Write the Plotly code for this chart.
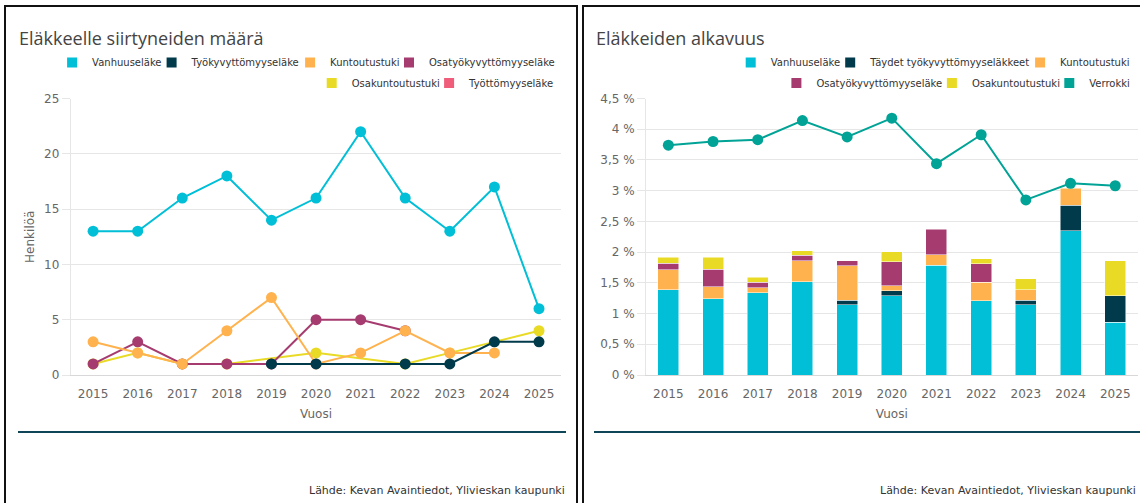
import plotly.graph_objects as go

# ---------------- data ----------------
years = ["2015", "2016", "2017", "2018", "2019", "2020", "2021", "2022", "2023", "2024", "2025"]

# Left chart: number of persons retiring
vanhuus_n = [13, 13, 16, 18, 14, 16, 22, 16, 13, 17, 6]
tyokyv_n = [None, None, None, None, 1, 1, None, 1, 1, 3, 3]
kunto_n = [3, 2, 1, 4, 7, 1, 2, 4, 2, 2, None]
osatyo_n = [1, 3, 1, 1, 1, 5, 5, 4, None, None, None]
osakunto_n = [1, 2, 1, 1, None, 2, None, 1, 2, None, 4]
tyotto_n = [None] * 11

# Right chart: pension incidence (%)
vanhuus_p = [1.39, 1.245, 1.34, 1.52, 1.14, 1.29, 1.79, 1.21, 1.14, 2.35, 0.86]
taydet_p = [None, None, None, None, 0.08, 0.08, None, None, 0.08, 0.41, 0.43]
kunto_p = [0.32, 0.195, 0.08, 0.34, 0.56, 0.08, 0.17, 0.30, 0.17, 0.28, None]
osatyo_p = [0.11, 0.28, 0.09, 0.09, 0.08, 0.39, 0.41, 0.30, None, None, None]
osakunto_p = [0.10, 0.20, 0.08, 0.07, None, 0.17, None, 0.08, 0.18, None, 0.57]
verrokki_p = [3.74, 3.80, 3.83, 4.14, 3.875, 4.18, 3.44, 3.91, 2.85, 3.12, 3.08]

y_left_ticks = [0, 5, 10, 15, 20, 25]
y_right_ticks = [0, 0.5, 1, 1.5, 2, 2.5, 3, 3.5, 4, 4.5]
y_right_labels = ["0 %", "0,5 %", "1 %", "1,5 %", "2 %", "2,5 %", "3 %", "3,5 %", "4 %", "4,5 %"]

# ---------------- style ----------------
W, H = 1140, 503
FONT = "DejaVu Sans"
C_CYAN = "#00bfd6"
C_NAVY = "#003a4b"
C_ORANGE = "#ffb24d"
C_PURPLE = "#a63b6f"
C_YELLOW = "#e8da25"
C_PINK = "#ef5d7a"
C_TEAL = "#00a396"
GRID = "#e6e6e6"


def px(x):
    return x / W


def py(y):
    return 1 - y / H


fig = go.Figure()

# ---- left chart lines (drawn in reverse so first series is on top) ----
left_series = [
    ("Vanhuuseläke", vanhuus_n, C_CYAN),
    ("Työkyvyttömyyseläke", tyokyv_n, C_NAVY),
    ("Kuntoutustuki", kunto_n, C_ORANGE),
    ("Osatyökyvyttömyyseläke", osatyo_n, C_PURPLE),
    ("Osakuntoutustuki", osakunto_n, C_YELLOW),
    ("Työttömyyseläke", tyotto_n, C_PINK),
]
for name, vals, col in reversed(left_series):
    fig.add_trace(go.Scatter(
        x=years, y=vals, name=name, mode="lines+markers",
        connectgaps=True, cliponaxis=False,
        line=dict(color=col, width=2),
        marker=dict(color=col, size=11),
        legendgroup="L_" + name, showlegend=False,
        xaxis="x", yaxis="y",
    ))

# ---- right chart stacked bars + comparison line ----
right_bars = [
    ("Vanhuuseläke", vanhuus_p, C_CYAN),
    ("Täydet työkyvyttömyyseläkkeet", taydet_p, C_NAVY),
    ("Kuntoutustuki", kunto_p, C_ORANGE),
    ("Osatyökyvyttömyyseläke", osatyo_p, C_PURPLE),
    ("Osakuntoutustuki", osakunto_p, C_YELLOW),
]
for name, vals, col in right_bars:
    fig.add_trace(go.Bar(
        x=years, y=vals, name=name,
        marker=dict(color=col, line=dict(color="white", width=0.5)),
        legendgroup="R_" + name, showlegend=False,
        xaxis="x2", yaxis="y2",
    ))
fig.add_trace(go.Scatter(
    x=years, y=verrokki_p, name="Verrokki", mode="lines+markers",
    cliponaxis=False,
    line=dict(color=C_TEAL, width=2),
    marker=dict(color=C_TEAL, size=11),
    legendgroup="R_Verrokki", showlegend=False,
    xaxis="x2", yaxis="y2",
))

# ---- legends: one entry each, square symbols ----
# (group, name, colour, legend-left px, row-centre px)
legend_entries = [
    ("L_", "Vanhuuseläke", C_CYAN, 52.1, 62.5),
    ("L_", "Työkyvyttömyyseläke", C_NAVY, 151.6, 62.5),
    ("L_", "Kuntoutustuki", C_ORANGE, 290.1, 62.5),
    ("L_", "Osatyökyvyttömyyseläke", C_PURPLE, 389.0, 62.5),
    ("L_", "Osakuntoutustuki", C_YELLOW, 311.7, 83.0),
    ("L_", "Työttömyyseläke", C_PINK, 429.1, 83.0),
    ("R_", "Vanhuuseläke", C_CYAN, 730.7, 62.5),
    ("R_", "Täydet työkyvyttömyyseläkkeet", C_NAVY, 830.2, 62.5),
    ("R_", "Kuntoutustuki", C_ORANGE, 1020.1, 62.5),
    ("R_", "Osatyökyvyttömyyseläke", C_PURPLE, 776.4, 83.0),
    ("R_", "Osakuntoutustuki", C_YELLOW, 931.9, 83.0),
    ("R_", "Verrokki", C_TEAL, 1049.3, 83.0),
]
legend_layouts = {}
for i, (grp, name, col, lx, ly) in enumerate(legend_entries):
    key = "legend" if i == 0 else f"legend{i + 1}"
    xa, ya = ("x", "y") if grp == "L_" else ("x2", "y2")
    fig.add_trace(go.Scatter(
        x=[None], y=[None], name=name, mode="markers",
        marker=dict(color=col, size=10, symbol="square"),
        legendgroup=grp + name, showlegend=True, legend=key,
        xaxis=xa, yaxis=ya,
    ))
    legend_layouts[key] = dict(
        x=px(lx), y=py(ly), xanchor="left", yanchor="middle",
        orientation="h", bgcolor="rgba(0,0,0,0)", borderwidth=0,
        font=dict(family=FONT, size=10, color="#333333"),
    )

axis_common = dict(
    tickfont=dict(family=FONT, size=12, color="#666666"),
    fixedrange=True,
)

fig.update_layout(
    width=W, height=H,
    margin=dict(l=0, r=0, t=0, b=0, autoexpand=False),
    paper_bgcolor="white", plot_bgcolor="white",
    barmode="stack", bargap=0.53,
    font=dict(family=FONT, color="#333333"),
    hovermode="closest",
    xaxis=dict(
        domain=[px(70.8), px(561.3)], anchor="y",
        type="category", categoryorder="array", categoryarray=years,
        range=[-0.5, 10.5], showgrid=False, zeroline=False,
        showline=True, linecolor="#d8d8d8", linewidth=1,
        ticks="outside", ticklen=8, tickcolor="rgba(0,0,0,0)",
        title=dict(text="Vuosi", font=dict(family=FONT, size=12, color="#666666"), standoff=9),
        **axis_common,
    ),
    yaxis=dict(
        domain=[py(375), py(98.5)], anchor="x",
        range=[0, 25], tickvals=y_left_ticks,
        showgrid=True, gridcolor=GRID, zeroline=False,
        showline=True, linecolor=GRID,
        ticks="outside", ticklen=8, tickcolor=GRID,
        title=dict(text="Henkilöä", font=dict(family=FONT, size=12, color="#666666"), standoff=6),
        **axis_common,
    ),
    xaxis2=dict(
        domain=[px(646), px(1137.6)], anchor="y2",
        type="category", categoryorder="array", categoryarray=years,
        range=[-0.5, 10.5], showgrid=False, zeroline=False,
        showline=True, linecolor="#d8d8d8", linewidth=1,
        ticks="outside", ticklen=8, tickcolor="rgba(0,0,0,0)",
        title=dict(text="Vuosi", font=dict(family=FONT, size=12, color="#666666"), standoff=9),
        **axis_common,
    ),
    yaxis2=dict(
        domain=[py(375), py(98.5)], anchor="x2",
        range=[0, 4.5], tickvals=y_right_ticks, ticktext=y_right_labels,
        showgrid=True, gridcolor=GRID, zeroline=False,
        showline=True, linecolor=GRID,
        ticks="outside", ticklen=8, tickcolor=GRID,
        **axis_common,
    ),
    **legend_layouts,
)

# panel frames and divider lines
fig.add_shape(type="rect", xref="paper", yref="paper",
              x0=px(5), x1=px(577), y0=py(520), y1=py(6),
              line=dict(color="#111111", width=2), fillcolor="rgba(0,0,0,0)", layer="above")
fig.add_shape(type="rect", xref="paper", yref="paper",
              x0=px(583), x1=px(1160), y0=py(520), y1=py(6),
              line=dict(color="#111111", width=2), fillcolor="rgba(0,0,0,0)", layer="above")
fig.add_shape(type="line", xref="paper", yref="paper",
              x0=px(18), x1=px(566), y0=py(432), y1=py(432),
              line=dict(color="#0f4657", width=2))
fig.add_shape(type="line", xref="paper", yref="paper",
              x0=px(594), x1=px(1140), y0=py(432), y1=py(432),
              line=dict(color="#0f4657", width=2))

# titles and sources
fig.add_annotation(text="Eläkkeelle siirtyneiden määrä", xref="paper", yref="paper",
                   x=px(17), y=py(38), xanchor="left", yanchor="middle", showarrow=False,
                   font=dict(family="Open Sans", size=18, color="#444444"))
fig.add_annotation(text="Eläkkeiden alkavuus", xref="paper", yref="paper",
                   x=px(594), y=py(38), xanchor="left", yanchor="middle", showarrow=False,
                   font=dict(family="Open Sans", size=18, color="#444444"))
fig.add_annotation(text="Lähde: Kevan Avaintiedot, Ylivieskan kaupunki", xref="paper", yref="paper",
                   x=px(567), y=py(490), xanchor="right", yanchor="middle", showarrow=False,
                   font=dict(family=FONT, size=11, color="#333333"))
fig.add_annotation(text="Lähde: Kevan Avaintiedot, Ylivieskan kaupunki", xref="paper", yref="paper",
                   x=px(1138), y=py(490), xanchor="right", yanchor="middle", showarrow=False,
                   font=dict(family=FONT, size=11, color="#333333"))

fig.write_html(
    "out.html",
    config={"displayModeBar": False},
    post_script="document.body.style.margin='0';document.body.style.overflow='hidden';",
)
